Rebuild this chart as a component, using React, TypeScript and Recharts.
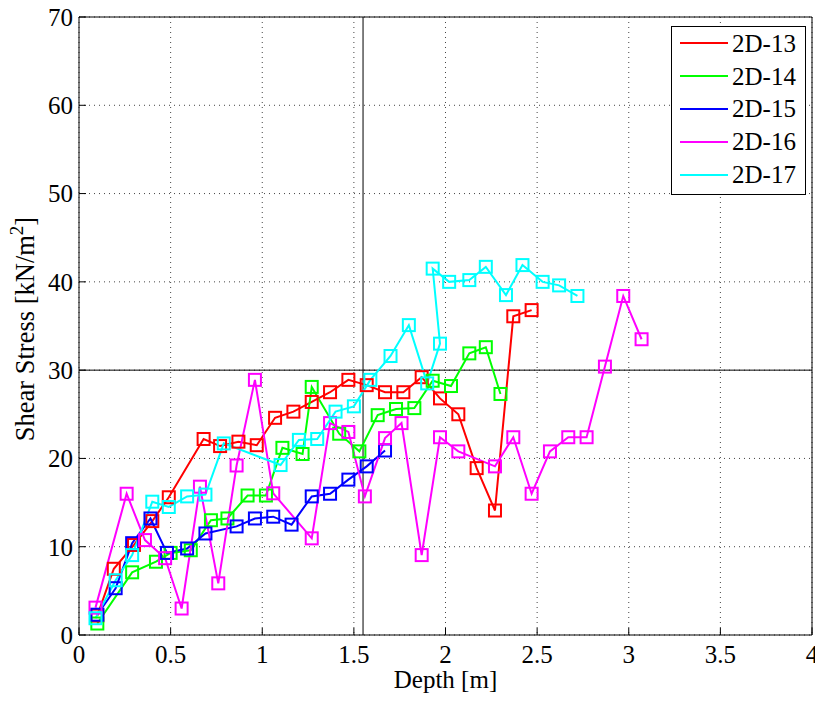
import React from 'react';
import { LineChart, Line, XAxis, YAxis, CartesianGrid, ReferenceLine, Legend } from 'recharts';

// ---- data (depth [m], shear stress [kN/m2]) ----
const depth13 = [0.1, 0.19, 0.3, 0.4, 0.49, 0.68, 0.77, 0.87, 0.97, 1.07, 1.17, 1.27, 1.37, 1.47, 1.57, 1.67, 1.77, 1.87, 1.97, 2.07, 2.17, 2.27, 2.37, 2.47];
const stress13 = [2.2, 7.5, 10.2, 12.9, 15.6, 22.2, 21.4, 21.9, 21.5, 24.6, 25.3, 26.4, 27.5, 28.9, 28.3, 27.5, 27.5, 29.2, 26.8, 25.0, 18.9, 14.1, 36.1, 36.8];

const depth14 = [0.1, 0.29, 0.42, 0.5, 0.61, 0.72, 0.81, 0.92, 1.02, 1.11, 1.22, 1.27, 1.42, 1.53, 1.63, 1.73, 1.83, 1.93, 2.03, 2.13, 2.22, 2.3];
const stress14 = [1.3, 7.1, 8.3, 9.3, 9.6, 13.0, 13.2, 15.8, 15.8, 21.2, 20.5, 28.1, 22.8, 20.8, 24.9, 25.6, 25.7, 28.8, 28.2, 31.9, 32.6, 27.3];

const depth15 = [0.1, 0.2, 0.29, 0.39, 0.48, 0.59, 0.69, 0.86, 0.96, 1.06, 1.16, 1.27, 1.37, 1.47, 1.57, 1.67];
const stress15 = [2.3, 5.3, 10.4, 13.2, 9.3, 9.8, 11.5, 12.3, 13.2, 13.4, 12.5, 15.7, 16.0, 17.6, 19.1, 20.9];

const depth16 = [0.09, 0.26, 0.36, 0.47, 0.56, 0.66, 0.76, 0.86, 0.96, 1.06, 1.27, 1.37, 1.47, 1.56, 1.67, 1.76, 1.87, 1.97, 2.07, 2.27, 2.37, 2.47, 2.57, 2.67, 2.77, 2.87, 2.97, 3.07];
const stress16 = [3.1, 16.0, 10.75, 8.7, 3.0, 16.8, 5.85, 19.2, 28.9, 16.05, 10.95, 24.0, 23.0, 15.7, 22.3, 24.0, 9.05, 22.4, 20.8, 19.1, 22.4, 16.0, 20.8, 22.4, 22.4, 30.4, 38.4, 33.5];

const depth17 = [0.09, 0.2, 0.29, 0.4, 0.49, 0.59, 0.69, 0.79, 1.1, 1.2, 1.3, 1.4, 1.5, 1.59, 1.7, 1.8, 1.9, 1.97, 1.93, 2.02, 2.13, 2.22, 2.33, 2.42, 2.53, 2.62, 2.72];
const stress17 = [1.9, 6.2, 9.05, 15.1, 14.5, 15.7, 15.9, 21.7, 19.25, 22.1, 22.2, 25.3, 25.9, 28.9, 31.6, 35.1, 28.5, 33.0, 41.5, 40.0, 40.2, 41.7, 38.5, 41.9, 40.0, 39.6, 38.4];

const seriesNames = ['2D-13', '2D-14', '2D-15', '2D-16', '2D-17'];
const seriesColors = ['#ff0000', '#00ff00', '#0000ff', '#ff00ff', '#00ffff'];
const seriesDepths = [depth13, depth14, depth15, depth16, depth17];
const seriesStress = [stress13, stress14, stress15, stress16, stress17];

const xTicks = [0, 0.5, 1, 1.5, 2, 2.5, 3, 3.5, 4];
const yTicks = [0, 10, 20, 30, 40, 50, 60, 70];
const refDepth = 1.55;
const refStress = 30;

const FONT = "'Liberation Serif', 'Times New Roman', serif";

const toPoints = (xs: number[], ys: number[]) => xs.map((x, i) => ({ x, y: ys[i] }));

const makeSquare = (color: string) => (props: any) => {
  const { cx, cy, index } = props;
  if (cx == null || cy == null) return <g key={`s-${index}`} />;
  return (
    <rect
      key={`s-${index}`}
      x={cx - 6}
      y={cy - 6}
      width={12}
      height={12}
      fill="none"
      stroke={color}
      strokeWidth={2}
    />
  );
};

const XTitle = (props: any) => {
  const vb = props.viewBox || {};
  return (
    <text x={vb.x + vb.width / 2} y={vb.y + 53} textAnchor="middle" fontFamily={FONT} fontSize={25} fill="#000">
      Depth [m]
    </text>
  );
};

const YTitle = (props: any) => {
  const vb = props.viewBox || {};
  const x = 34;
  const y = vb.y + vb.height / 2 + 3;
  return (
    <text
      x={x}
      y={y}
      transform={`rotate(-90, ${x}, ${y})`}
      textAnchor="middle"
      fontFamily={FONT}
      fontSize={26.5}
      fill="#000"
    >
      Shear Stress [kN/m
      <tspan dy={-11} fontSize={19}>2</tspan>
      <tspan dy={11}>]</tspan>
    </text>
  );
};

const renderLegend = (props: any) => {
  const payload = props.payload || [];
  return (
    <div
      style={{
        border: '1px solid #000',
        background: '#fff',
        width: 135,
        height: 169,
        boxSizing: 'border-box',
        fontFamily: FONT,
        fontSize: 25,
        color: '#000',
      }}
    >
      {payload.map((e: any, i: number) => (
        <div key={i} style={{ display: 'flex', alignItems: 'center', height: 32.8 }}>
          <div style={{ marginLeft: 8, width: 48, height: 2, background: e.color }} />
          <span style={{ marginLeft: 4, lineHeight: '25px', whiteSpace: 'nowrap' }}>{e.value}</span>
        </div>
      ))}
    </div>
  );
};

export default function App() {
  return (
    <div style={{ width: 823, height: 704, position: 'relative', marginTop: -8, marginLeft: -8 }}>
      <LineChart width={823} height={704} margin={{ top: 0, right: 0, bottom: 0, left: 0 }}>
        <CartesianGrid stroke="#444" strokeDasharray="1 4" strokeWidth={1} />
        <XAxis
          xAxisId={0}
          type="number"
          dataKey="x"
          domain={[0, 4]}
          ticks={xTicks}
          interval={0}
          height={69}
          stroke="#000"
          tickSize={-7}
          tickMargin={17}
          tick={{ fill: '#000', fontSize: 25, fontFamily: FONT }}
          allowDataOverflow
          label={<XTitle />}
        />
        <XAxis
          xAxisId="top"
          orientation="top"
          type="number"
          domain={[0, 4]}
          ticks={xTicks}
          interval={0}
          height={17}
          stroke="#000"
          tickSize={-7}
          tick={false}
          allowDataOverflow
        />
        <YAxis
          yAxisId={0}
          type="number"
          domain={[0, 70]}
          ticks={yTicks}
          interval={0}
          width={79}
          stroke="#000"
          tickSize={-7}
          tickMargin={13}
          tick={{ fill: '#000', fontSize: 25, fontFamily: FONT }}
          allowDataOverflow
          label={<YTitle />}
        />
        <YAxis
          yAxisId="right"
          orientation="right"
          type="number"
          domain={[0, 70]}
          ticks={yTicks}
          interval={0}
          width={11}
          stroke="#000"
          tickSize={-7}
          tick={false}
          allowDataOverflow
        />
        <ReferenceLine x={refDepth} stroke="#000" strokeWidth={1} />
        <ReferenceLine y={refStress} stroke="#000" strokeWidth={1} />
        {seriesNames.map((name, i) => (
          <Line
            key={name}
            name={name}
            data={toPoints(seriesDepths[i], seriesStress[i])}
            dataKey="y"
            type="linear"
            stroke={seriesColors[i]}
            strokeWidth={2}
            dot={makeSquare(seriesColors[i])}
            activeDot={false}
            isAnimationActive={false}
          />
        ))}
        <Legend
          layout="vertical"
          align="center"
          verticalAlign="middle"
          content={renderLegend}
          wrapperStyle={{ position: 'absolute', left: 671, top: 26, width: 135, height: 169 }}
        />
      </LineChart>
    </div>
  );
}
